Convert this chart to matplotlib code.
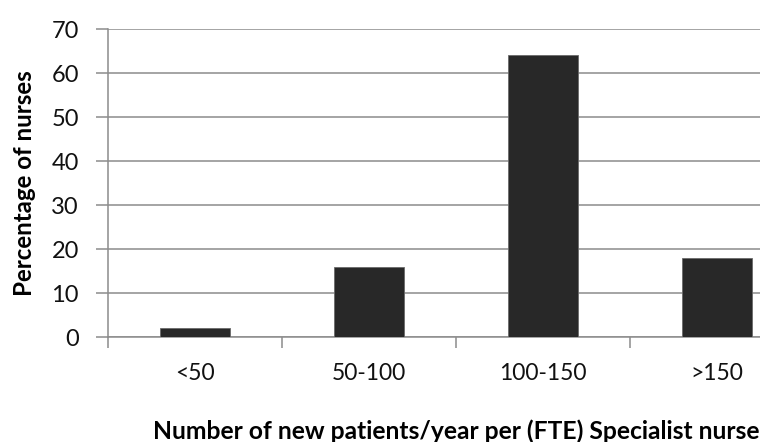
import numpy as np
import matplotlib.pyplot as plt

categories = ['<50', '50-100', '100-150', '>150']
percent = [2, 16, 64, 18]

plt.rcParams['font.family'] = ['Lato', 'DejaVu Sans']

fig = plt.figure(figsize=(7.6, 4.42), dpi=100)
# axes runs past the right edge like in the original picture
ax = fig.add_axes([108/760, 105/442, 696/760, 308/442])

x = np.arange(len(categories))
ax.bar(x, percent, width=0.4, color='#282828', edgecolor='#6a6a6a', linewidth=0.6, zorder=3)

ax.set_xlim(-0.5, len(categories) - 0.5)
ax.set_ylim(0, 70)
ax.set_yticks(np.arange(0, 71, 10))
ax.yaxis.grid(True, color='#8c8c8c', linewidth=1.1)
ax.set_axisbelow(True)

ax.set_xticks(x)
ax.set_xticklabels(categories, fontsize=16.5, color='#111111')
ax.set_xticks(np.arange(-0.5, len(categories), 1), minor=True)
ax.tick_params(axis='x', which='major', length=0, pad=19)
ax.tick_params(axis='x', which='minor', length=8, color='#8c8c8c', width=1.1)
ax.tick_params(axis='y', length=9, color='#8c8c8c', width=1.1, labelsize=17,
               labelcolor='#111111', pad=12)

for s in ['top', 'right']:
    ax.spines[s].set_visible(False)
for s in ['left', 'bottom']:
    ax.spines[s].set_color('#8c8c8c')
    ax.spines[s].set_linewidth(1.1)

ylab = ax.set_ylabel('Percentage of nurses', fontsize=14, fontweight='bold', va='center')
ax.yaxis.set_label_coords((25 - 108) / 696, 0.5)
xlab = ax.set_xlabel('Number of new patients/year per (FTE) Specialist nurse', fontsize=14,
                     fontweight='bold', va='baseline')
ax.xaxis.set_label_coords(0.5, (337 - 439) / 308)

# scale the label sizes so their lengths match the original
fig.canvas.draw()
r = fig.canvas.get_renderer()
for lab, target, along in [(ylab, 228, 'h'), (xlab, 610, 'w')]:
    bb = lab.get_window_extent(r)
    cur = bb.height if along == 'h' else bb.width
    lab.set_fontsize(14 * target / cur)

fig.savefig('out.png', dpi=100)
